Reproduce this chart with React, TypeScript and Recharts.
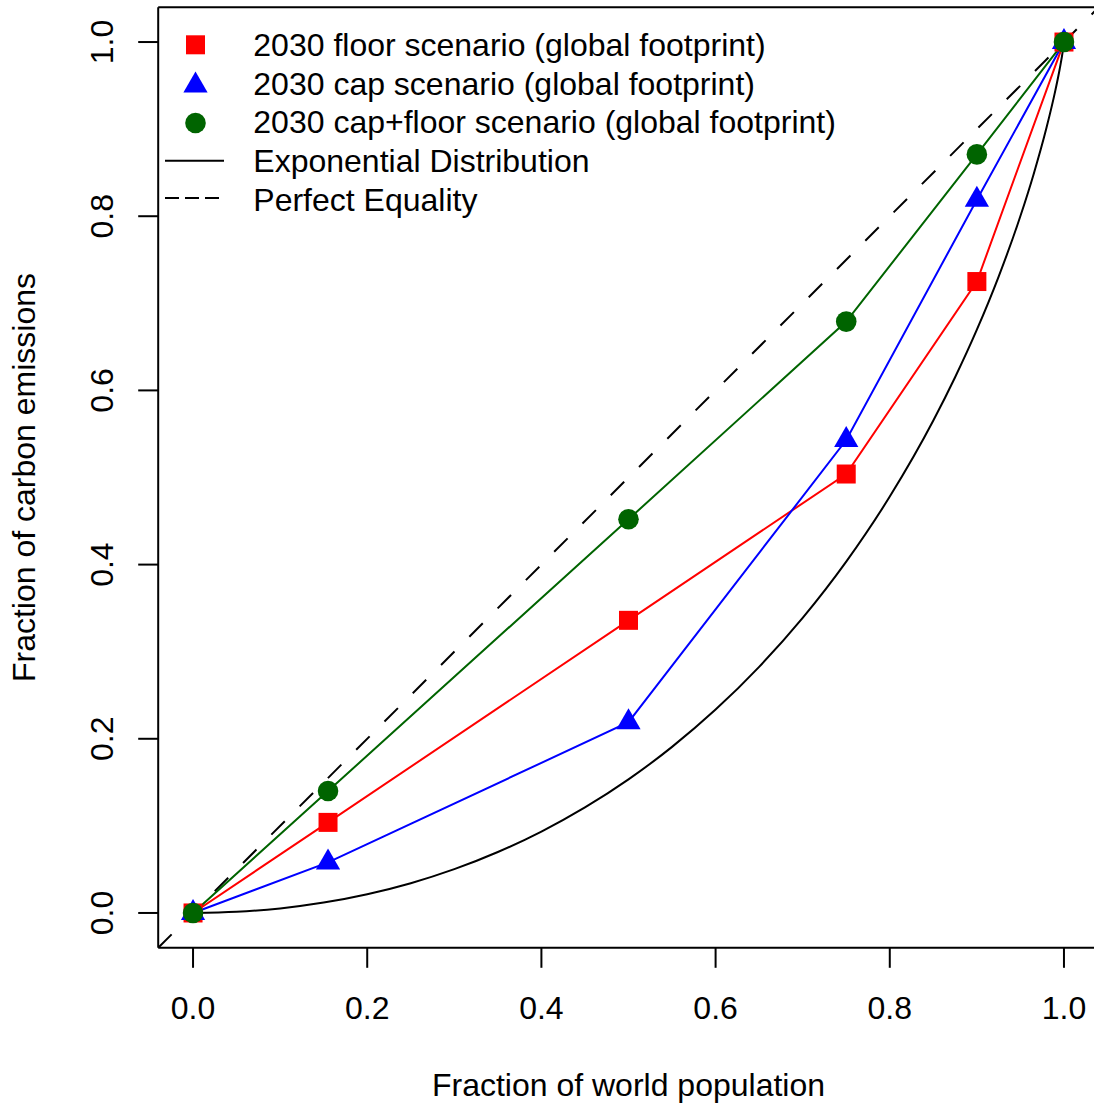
import React from "react";
import {
  ComposedChart,
  Line,
  XAxis,
  YAxis,
  ReferenceLine,
  Legend,
  Label,
} from "recharts";

// ---- Data ----
const POP_FRACTION = [0, 0.155, 0.5, 0.75, 0.9, 1.0];
const FLOOR_SCENARIO = [0, 0.104, 0.336, 0.504, 0.725, 1.0];
const CAP_SCENARIO = [0, 0.058, 0.219, 0.543, 0.819, 1.0];
const CAPFLOOR_SCENARIO = [0, 0.14, 0.452, 0.679, 0.871, 1.0];

const EXP_X = [
  0, 0.05, 0.1, 0.15, 0.2, 0.25, 0.3, 0.35, 0.4, 0.45, 0.5, 0.55, 0.6, 0.65,
  0.7, 0.75, 0.8, 0.85, 0.875, 0.9, 0.925, 0.95, 0.965, 0.98, 0.99, 0.995,
  0.999, 1.0,
];
const EXP_Y = [
  0, 0.0013, 0.0052, 0.0119, 0.0215, 0.0342, 0.0503, 0.07, 0.0935, 0.1212,
  0.1534, 0.1907, 0.2335, 0.2826, 0.3388, 0.4034, 0.4781, 0.5654, 0.6151,
  0.6697, 0.7307, 0.8002, 0.8477, 0.9018, 0.9439, 0.9685, 0.9921, 1.0,
];

const EQUALITY_X = [-0.04, 1.04];
const EQUALITY_Y = [-0.04, 1.04];

const X_TICKS = [0, 0.2, 0.4, 0.6, 0.8, 1.0];
const Y_TICKS = [0, 0.2, 0.4, 0.6, 0.8, 1.0];

const LEGEND_LABELS = [
  "2030 floor scenario (global footprint)",
  "2030 cap scenario (global footprint)",
  "2030 cap+floor scenario (global footprint)",
  "Exponential Distribution",
  "Perfect Equality",
];

const X_TITLE = "Fraction of world population";
const Y_TITLE = "Fraction of carbon emissions";

// ---- Helpers ----
const zip = (xs: number[], ys: number[]) => xs.map((x, i) => ({ x, y: ys[i] }));
const floorData = zip(POP_FRACTION, FLOOR_SCENARIO);
const capData = zip(POP_FRACTION, CAP_SCENARIO);
const capFloorData = zip(POP_FRACTION, CAPFLOOR_SCENARIO);
const expData = zip(EXP_X, EXP_Y);
const equalityData = zip(EQUALITY_X, EQUALITY_Y);

const FONT = "'Liberation Sans', Arial, Helvetica, sans-serif";
const FS = 32;
const RED = "#FF0000";
const BLUE = "#0000FF";
const GREEN = "#006400";

const SQ = 19;
const TRI_R = 14;

const Square = ({ cx, cy, k }: any) => (
  <rect key={k} x={cx - SQ / 2} y={cy - SQ / 2} width={SQ} height={SQ} fill={RED} />
);
const Triangle = ({ cx, cy, k }: any) => {
  const w = TRI_R * Math.sqrt(3) / 2;
  return (
    <polygon
      key={k}
      points={`${cx},${cy - TRI_R} ${cx + w},${cy + TRI_R / 2} ${cx - w},${cy + TRI_R / 2}`}
      fill={BLUE}
    />
  );
};
const Circ = ({ cx, cy, k }: any) => <circle key={k} cx={cx} cy={cy} r={10.3} fill={GREEN} />;

const XTick = (props: any) => {
  const { x, y, payload } = props;
  return (
    <text x={x} y={y + 50.7} textAnchor="middle" fontSize={FS} fontFamily={FONT} fill="#000">
      {Number(payload.value).toFixed(1)}
    </text>
  );
};

const YTick = (props: any) => {
  const { x, y, payload } = props;
  const bx = x - 25;
  return (
    <text
      x={bx}
      y={y}
      transform={`rotate(-90, ${bx}, ${y})`}
      textAnchor="middle"
      fontSize={FS}
      fontFamily={FONT}
      fill="#000"
    >
      {Number(payload.value).toFixed(1)}
    </text>
  );
};

const XTitle = (props: any) => {
  const vb = props.viewBox || { x: 158.2, y: 947.8, width: 940.6, height: 155.2 };
  return (
    <text
      x={vb.x + vb.width / 2}
      y={vb.y + 148.2}
      textAnchor="middle"
      fontSize={FS}
      fontFamily={FONT}
      fill="#000"
    >
      {X_TITLE}
    </text>
  );
};

const YTitle = (props: any) => {
  const vb = props.viewBox || { x: 0, y: 7.2, width: 158.2, height: 940.6 };
  const bx = 35;
  const cy = vb.y + vb.height / 2;
  return (
    <text
      x={bx}
      y={cy}
      transform={`rotate(-90, ${bx}, ${cy})`}
      textAnchor="middle"
      fontSize={FS}
      fontFamily={FONT}
      fill="#000"
    >
      {Y_TITLE}
    </text>
  );
};

const renderLegend = () => {
  const textX = 253.3;
  const baselines = [56, 94.7, 133.4, 172.1, 210.8];
  const symX = 195.5;
  return (
    <svg width={900} height={230} style={{ overflow: "visible", display: "block" }}>
      <Square cx={symX} cy={44.8} k="l0" />
      <Triangle cx={symX} cy={85.5} k="l1" />
      <Circ cx={symX} cy={123} k="l2" />
      <line x1={165} x2={224} y1={160.7} y2={160.7} stroke="#000" strokeWidth={2} />
      <line
        x1={165}
        x2={224}
        y1={198}
        y2={198}
        stroke="#000"
        strokeWidth={2}
        strokeDasharray="14 6"
      />
      {LEGEND_LABELS.map((t, i) => (
        <text key={t} x={textX} y={baselines[i]} fontSize={FS} fontFamily={FONT} fill="#000">
          {t}
        </text>
      ))}
    </svg>
  );
};

export default function App() {
  return (
    <div
      style={{
        position: "absolute",
        left: 0,
        top: 0,
        width: 1094,
        height: 1103,
        overflow: "hidden",
        background: "#fff",
      }}
    >
      <ComposedChart
        width={1100}
        height={1103}
        margin={{ top: 7.2, right: 1.2, bottom: 0, left: 0 }}
      >
        <XAxis
          dataKey="x"
          type="number"
          domain={[-0.04, 1.04]}
          ticks={X_TICKS}
          interval={0}
          allowDataOverflow
          height={155.2}
          axisLine={{ stroke: "#000", strokeWidth: 2 }}
          tickLine={{ stroke: "#000", strokeWidth: 2 }}
          tickSize={20}
          tickMargin={0}
          tick={<XTick />}
        >
          <Label content={<XTitle />} />
        </XAxis>
        <YAxis
          dataKey="y"
          type="number"
          domain={[-0.04, 1.04]}
          ticks={Y_TICKS}
          interval={0}
          allowDataOverflow
          width={158.2}
          axisLine={{ stroke: "#000", strokeWidth: 2 }}
          tickLine={{ stroke: "#000", strokeWidth: 2 }}
          tickSize={20}
          tickMargin={0}
          tick={<YTick />}
        >
          <Label content={<YTitle />} />
        </YAxis>
        <ReferenceLine y={1.04} stroke="#000" strokeWidth={2} />
        <ReferenceLine x={1.04} stroke="#000" strokeWidth={2} />
        <Line
          data={expData}
          dataKey="y"
          type="monotone"
          stroke="#000"
          strokeWidth={2}
          dot={false}
          activeDot={false}
          isAnimationActive={false}
        />
        <Line
          data={equalityData}
          dataKey="y"
          type="linear"
          stroke="#000"
          strokeWidth={2}
          strokeDasharray="19 21"
          dot={false}
          activeDot={false}
          isAnimationActive={false}
        />
        <Line
          data={floorData}
          dataKey="y"
          type="linear"
          stroke={RED}
          strokeWidth={2}
          dot={(p: any) => <Square key={`f${p.index}`} cx={p.cx} cy={p.cy} k={`f${p.index}`} />}
          activeDot={false}
          isAnimationActive={false}
        />
        <Line
          data={capData}
          dataKey="y"
          type="linear"
          stroke={BLUE}
          strokeWidth={2}
          dot={(p: any) => <Triangle key={`c${p.index}`} cx={p.cx} cy={p.cy} k={`c${p.index}`} />}
          activeDot={false}
          isAnimationActive={false}
        />
        <Line
          data={capFloorData}
          dataKey="y"
          type="linear"
          stroke={GREEN}
          strokeWidth={2}
          dot={(p: any) => <Circ key={`g${p.index}`} cx={p.cx} cy={p.cy} k={`g${p.index}`} />}
          activeDot={false}
          isAnimationActive={false}
        />
        <Legend
          layout="vertical"
          verticalAlign="middle"
          align="center"
          content={renderLegend}
          wrapperStyle={{ position: "absolute", left: 0, top: 0, width: 900, height: 230 }}
        />
      </ComposedChart>
    </div>
  );
}
